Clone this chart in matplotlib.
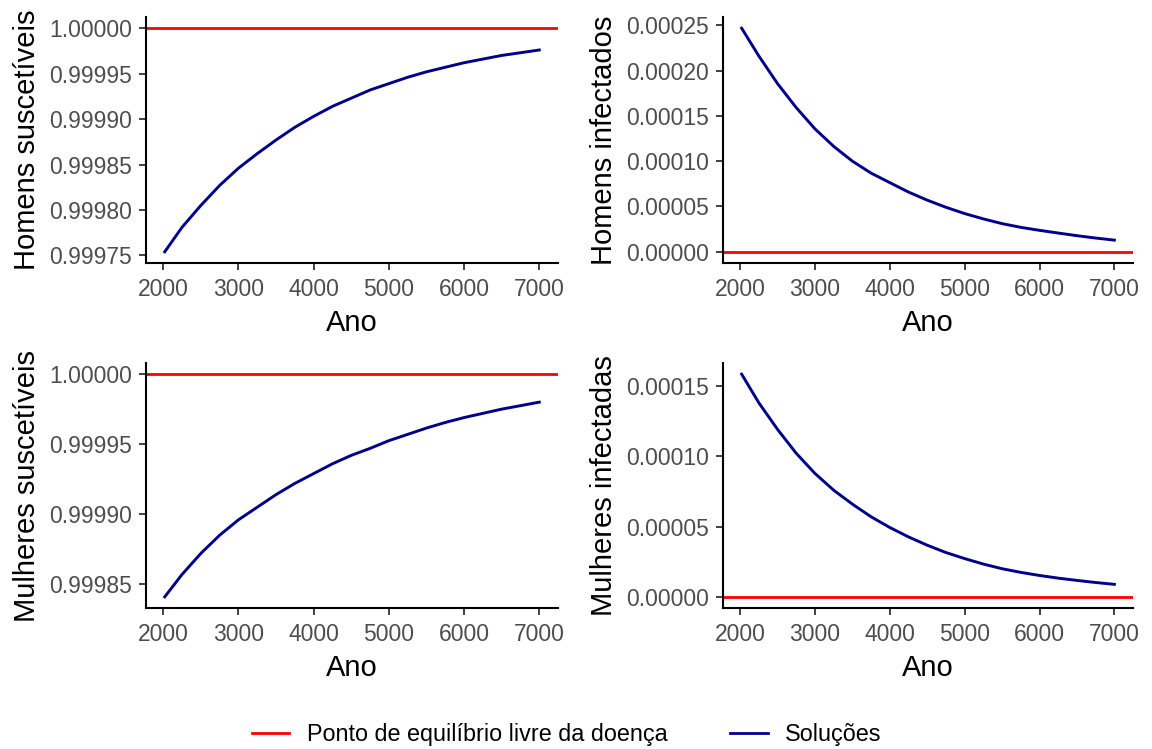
import matplotlib
matplotlib.use("Agg")
import matplotlib.pyplot as plt
from matplotlib.lines import Line2D

plt.rcParams['font.family'] = ['Liberation Sans', 'DejaVu Sans']

anos = [2020, 2250, 2500, 2750, 3000, 3250, 3500, 3750, 4000, 4250, 4500,
        4750, 5000, 5250, 5500, 5750, 6000, 6250, 6500, 6750, 7000]

homens_susc = [0.999754, 0.999781, 0.999805, 0.999827, 0.999846, 0.999862, 0.999877,
               0.999891, 0.999903, 0.999914, 0.999923, 0.999932, 0.999939, 0.999946,
               0.999952, 0.999957, 0.999962, 0.999966, 0.999970, 0.999973, 0.999976]
homens_inf = [0.0002467, 0.000216, 0.0001855, 0.000159, 0.0001356, 0.0001163, 0.0001000,
              0.0000868, 0.0000763, 0.0000659, 0.0000570, 0.0000491, 0.0000422, 0.0000363,
              0.0000311, 0.0000270, 0.0000237, 0.0000207, 0.0000178, 0.0000152, 0.0000129]
mulheres_susc = [0.999841, 0.999857, 0.999872, 0.999885, 0.999896, 0.999905, 0.999914,
                 0.999922, 0.999929, 0.999936, 0.999942, 0.999947, 0.9999525, 0.999957,
                 0.9999615, 0.9999655, 0.999969, 0.999972, 0.999975, 0.9999775, 0.999980]
mulheres_inf = [0.0001583, 0.0001379, 0.000119, 0.000102, 0.0000877, 0.0000758, 0.0000659,
                0.0000569, 0.0000493, 0.0000426, 0.0000367, 0.0000315, 0.0000272, 0.0000233,
                0.0000200, 0.0000174, 0.0000152, 0.0000133, 0.0000117, 0.0000102, 0.0000089]

equilibrio = [1.0, 0.0, 1.0, 0.0]
ylabels = ["Homens suscetíveis", "Homens infectados", "Mulheres suscetíveis", "Mulheres infectadas"]
yticks = [
    [0.99975, 0.99980, 0.99985, 0.99990, 0.99995, 1.00000],
    [0.0, 0.00005, 0.00010, 0.00015, 0.00020, 0.00025],
    [0.99985, 0.99990, 0.99995, 1.00000],
    [0.0, 0.00005, 0.00010, 0.00015],
]
xticks = [2000, 3000, 4000, 5000, 6000, 7000]
series = [homens_susc, homens_inf, mulheres_susc, mulheres_inf]
legend_labels = ["Ponto de equilíbrio livre da doença", "Soluções"]

RED = "#FF0000"
BLUE = "#00008B"
W, H = 1152, 749
fig = plt.figure(figsize=(W / 100, H / 100), dpi=100)

boxes = [(146, 558, 17, 263), (723, 1133, 17, 263), (146, 558, 363, 608), (723, 1133, 363, 608)]

for i, (x0, x1, y0, y1) in enumerate(boxes):
    ax = fig.add_axes([x0 / W, 1 - y1 / H, (x1 - x0) / W, (y1 - y0) / H])
    vals = series[i]
    ax.axhline(equilibrio[i], color=RED, lw=2.0, zorder=2)
    ax.plot(anos, vals, color=BLUE, lw=2.1, zorder=3, solid_joinstyle="round")
    lo = min(min(vals), equilibrio[i])
    hi = max(max(vals), equilibrio[i])
    pad = 0.05 * (hi - lo)
    ax.set_ylim(lo - pad, hi + pad)
    xr = anos[-1] - anos[0]
    ax.set_xlim(anos[0] - 0.05 * xr, anos[-1] + 0.05 * xr)
    ax.set_yticks(yticks[i])
    ax.set_yticklabels([f"{v:.5f}" for v in yticks[i]])
    ax.set_xticks(xticks)
    ax.set_xticklabels([str(v) for v in xticks])
    for s in ["top", "right"]:
        ax.spines[s].set_visible(False)
    for s in ["left", "bottom"]:
        ax.spines[s].set_linewidth(1.5)
        ax.spines[s].set_color("black")
    ax.tick_params(axis="both", length=5, width=1.3, color="#333333",
                   labelsize=16.5, labelcolor="#4D4D4D")
    ax.tick_params(axis="y", pad=5)
    ax.tick_params(axis="x", pad=5.5)
    ax.set_xlabel("Ano", fontsize=21, color="black", labelpad=6)
    ax.set_ylabel(ylabels[i], fontsize=21, color="black", labelpad=6)

handles = [Line2D([], [], color=RED, lw=2.0), Line2D([], [], color=BLUE, lw=2.0)]
fig.legend(handles, legend_labels, loc="center", bbox_to_anchor=(0.492, 1 - 735 / H),
           ncol=2, frameon=False, fontsize=16.8, handlelength=1.6, columnspacing=2.7,
           handletextpad=0.74)

fig.savefig("out.png", dpi=100)
